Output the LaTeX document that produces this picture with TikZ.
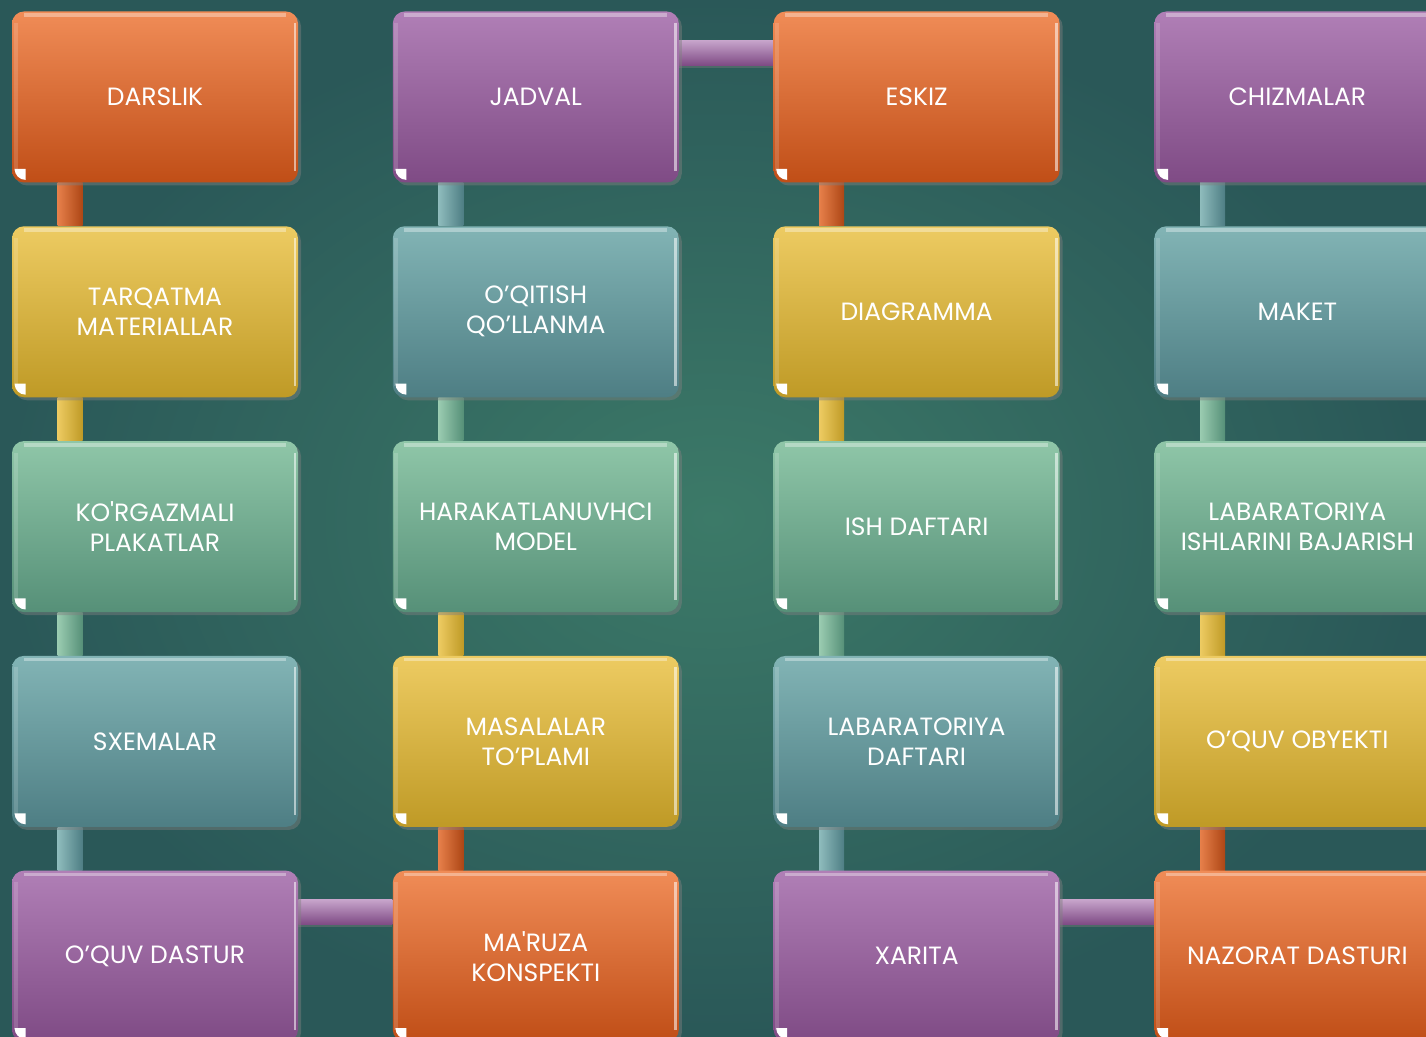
\documentclass[tikz,border=0pt]{standalone}
\usepackage{fontspec}
\setsansfont{Poppins}[Ligatures=TeXOff]
\usepackage{tikz}
\usetikzlibrary{positioning}
\usetikzlibrary{shadows}
\usetikzlibrary{backgrounds}
\definecolor{o_top}{HTML}{F08C57}
\definecolor{o_bot}{HTML}{C04E17}
\definecolor{p_top}{HTML}{B07FB6}
\definecolor{p_bot}{HTML}{7F4B85}
\definecolor{y_top}{HTML}{EDCB62}
\definecolor{y_bot}{HTML}{BF9A26}
\definecolor{t_top}{HTML}{82B4B5}
\definecolor{t_bot}{HTML}{4E7E84}
\definecolor{g_top}{HTML}{8FC6A8}
\definecolor{g_bot}{HTML}{569078}
\definecolor{bg_in}{HTML}{3C7A68}
\definecolor{bg_out}{HTML}{2A5858}
\tikzset{
	boxnode/.style = {
		align=center,
		inner sep=0pt,
		text centered,
		text=white,
		font=\sffamily\fontsize{12.5}{15}\selectfont,
		rounded corners=6pt,
		minimum width=143pt,
		minimum height=85.5pt,
		drop shadow={opacity=0.45, shadow xshift=1.5pt, shadow yshift=-1.5pt}
	},
	node_o/.style = {boxnode, top color=o_top, bottom color=o_bot},
	node_p/.style = {boxnode, top color=p_top, bottom color=p_bot},
	node_y/.style = {boxnode, top color=y_top, bottom color=y_bot},
	node_t/.style = {boxnode, top color=t_top, bottom color=t_bot},
	node_g/.style = {boxnode, top color=g_top, bottom color=g_bot},
	bar_o/.style = {left color=o_top!80!o_bot, right color=o_bot!90!black},
	bar_y/.style = {left color=y_top, right color=y_bot},
	bar_g/.style = {left color=g_top!90!white, right color=g_bot},
	bar_t/.style = {left color=t_top!90!white, right color=t_bot},
	bar_p/.style = {top color=p_top!70!white, bottom color=p_bot, drop shadow={opacity=0.4, shadow xshift=0pt, shadow yshift=-1.5pt}},
	gloss/.style = {white, opacity=0.35},
}

\begin{document}
\begin{tikzpicture}[node distance=21.5pt and 47pt]
\useasboundingbox (0,0) rectangle (713pt,518.5pt);
\node [node_o] (darslik) at (77.5pt,470pt) {DARSLIK};
\node [node_y, below=of darslik] (tarqatma) {TARQATMA\\MATERIALLAR};
\node [node_g, below=of tarqatma] (korgazmali) {KO'RGAZMALI\\PLAKATLAR};
\node [node_t, below=of korgazmali] (sxemalar) {SXEMALAR};
\node [node_p, below=of sxemalar] (dastur) {O’QUV DASTUR};
\node [node_o, right=of dastur] (maruza) {MA'RUZA\\KONSPEKTI};
\node [node_y, above=of maruza] (masalalar) {MASALALAR\\TO’PLAMI};
\node [node_g, above=of masalalar] (harakat) {HARAKATLANUVHCI\\MODEL};
\node [node_t, above=of harakat] (qollanma) {O’QITISH\\QO’LLANMA};
\node [node_p, above=of qollanma] (jadval) {JADVAL};
\node [node_o, right=of jadval] (eskiz) {ESKIZ};
\node [node_y, below=of eskiz] (diagramma) {DIAGRAMMA};
\node [node_g, below=of diagramma] (daftar) {ISH DAFTARI};
\node [node_t, below=of daftar] (labdaftar) {LABARATORIYA\\DAFTARI};
\node [node_p, below=of labdaftar] (xarita) {XARITA};
\node [node_o, right=of xarita] (nazorat) {NAZORAT DASTURI};
\node [node_y, above=of nazorat] (obyekt) {O’QUV OBYEKTI};
\node [node_g, above=of obyekt] (labish) {LABARATORIYA\\ISHLARINI BAJARISH};
\node [node_t, above=of labish] (maket) {MAKET};
\node [node_p, above=of maket] (chizma) {CHIZMALAR};
\foreach \n in {darslik, tarqatma, korgazmali, sxemalar, dastur, maruza, masalalar, harakat, qollanma, jadval,
	eskiz, diagramma, daftar, labdaftar, xarita, nazorat, obyekt, labish, maket, chizma} {
	\fill[gloss] ([shift={(6pt,-1.2pt)}]\n.north west) rectangle ([shift={(-6pt,-3pt)}]\n.north east);
	\fill[gloss, opacity=0.15] ([shift={(1pt,-6pt)}]\n.north west) rectangle ([shift={(3pt,6pt)}]\n.south west);
	\fill[gloss, opacity=0.55] ([shift={(-2.4pt,-6pt)}]\n.north east) rectangle ([shift={(-1.2pt,6pt)}]\n.south east);
	\fill[white] ([shift={(7pt,7pt)}]\n.south west) -- ++(-5.5pt,0) arc[start angle=180, end angle=270, radius=5.5pt] -- cycle;
}
\begin{scope}[on background layer]
\shade[inner color=bg_in, outer color=bg_out] (0,0) rectangle (713pt,518.5pt);
\foreach \lo/\up/\c in {tarqatma/darslik/o, korgazmali/tarqatma/y, sxemalar/korgazmali/g, dastur/sxemalar/t,
	maruza/masalalar/o, masalalar/harakat/y, harakat/qollanma/g, qollanma/jadval/t,
	diagramma/eskiz/o, daftar/diagramma/y, labdaftar/daftar/g, xarita/labdaftar/t,
	nazorat/obyekt/o, obyekt/labish/y, labish/maket/g, maket/chizma/t}
	\shade[bar_\c] ([xshift=23pt]\lo.north west) rectangle ([xshift=35.5pt]\up.south west);
\foreach \a/\b in {dastur/maruza, jadval/eskiz, xarita/nazorat}
	\shade[bar_p] ([yshift=-14.5pt]\a.north east) rectangle ([yshift=-27pt]\b.north west);
\end{scope}
\end{tikzpicture}
\end{document}
